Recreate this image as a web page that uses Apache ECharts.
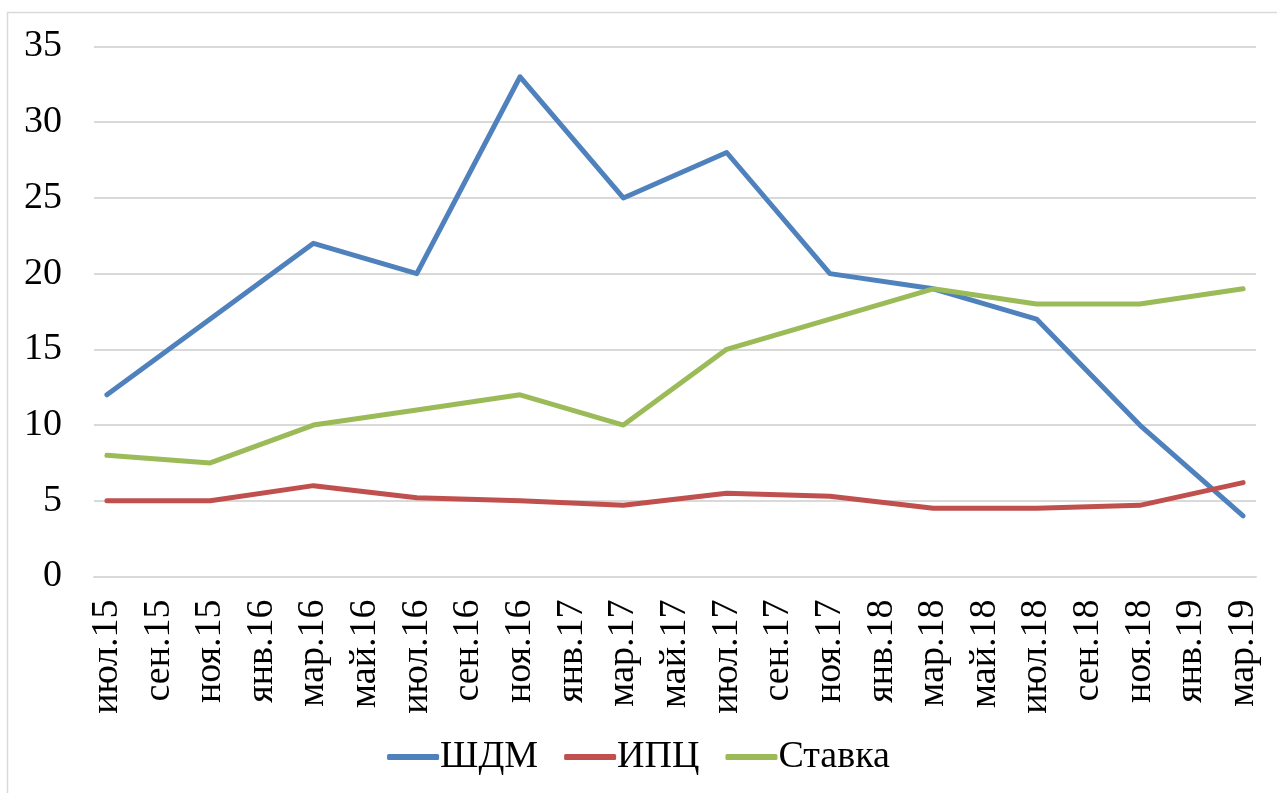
<!DOCTYPE html>
<html>
<head>
<meta charset="utf-8">
<script src="https://cdn.jsdelivr.net/npm/echarts@6/dist/echarts.min.js"></script>
<style>
  html, body { margin: 0; padding: 0; background: #fff; }
  #chart { width: 1277px; height: 793px; }
</style>
</head>
<body>
<div id="chart"></div>
<script>
// monthly axis, июл.15 .. мар.19 (labels shown every 2nd month)
var monthNames = ['янв', 'фев', 'мар', 'апр', 'май', 'июн', 'июл', 'авг', 'сен', 'окт', 'ноя', 'дек'];
var categories = [];
for (var k = 0; k < 45; k++) {
  var m = (6 + k) % 12;
  var y = 15 + Math.floor((6 + k) / 12);
  categories.push(monthNames[m] + '.' + y);
}

// observations every 4 months: июл.15, ноя.15, мар.16, ... мар.19
var shdm   = [12, 17, 22, 20, 33, 25, 28, 20, 19, 17, 10, 4];
var ipc    = [5, 5, 6, 5.2, 5, 4.7, 5.5, 5.3, 4.5, 4.5, 4.7, 6.2];
var stavka = [8, 7.5, 10, 11, 12, 10, 15, 17, 19, 18, 18, 19];

var yTicks = [0, 5, 10, 15, 20, 25, 30, 35];

// spread the 4-monthly values onto the monthly axis
const toMonthly = (vals) => {
  var out = [];
  for (var i = 0; i < categories.length; i++) {
    out.push(i % 4 === 0 ? vals[i / 4] : null);
  }
  return out;
};

const font = 'Liberation Serif';

const makeLine = (name, vals, color) => {
  return {
    name: name,
    type: 'line',
    data: toMonthly(vals),
    connectNulls: true,
    showSymbol: false,
    symbol: 'none',
    lineStyle: { color: color, width: 5, cap: 'round', join: 'round' },
    itemStyle: { color: color },
    emphasis: { disabled: true }
  };
};

const getOptionChart = () => {
  return {
    animation: false,
    backgroundColor: '#fff',
    textStyle: { fontFamily: font },
    graphic: [{
      type: 'rect',
      shape: { x: 7.5, y: 12.5, width: 1300, height: 900 },
      style: { fill: 'none', stroke: '#D9D9D9', lineWidth: 1.5 },
      silent: true
    }],
    grid: { left: 94, right: 21, top: 46.5, bottom: 216.5 },
    legend: {
      bottom: 12,
      left: 'center',
      itemWidth: 52,
      itemHeight: 6,
      itemGap: 26,
      icon: 'roundRect',
      textStyle: { fontFamily: font, fontSize: 38, color: '#000', padding: [0, 0, 0, -4] },
      data: ['ШДМ', 'ИПЦ', 'Ставка']
    },
    xAxis: {
      type: 'category',
      data: categories,
      boundaryGap: true,
      axisLine: { show: true, lineStyle: { color: '#D9D9D9', width: 2 } },
      axisTick: { show: false },
      axisLabel: {
        interval: 1,
        rotate: 90,
        margin: 23,
        fontFamily: font,
        fontSize: 38,
        color: '#000'
      }
    },
    yAxis: {
      type: 'value',
      min: yTicks[0],
      max: yTicks[yTicks.length - 1],
      interval: 5,
      axisLine: { show: false },
      axisTick: { show: false },
      splitLine: { lineStyle: { color: '#D9D9D9', width: 2 } },
      axisLabel: {
        margin: 32,
        fontFamily: font,
        fontSize: 38,
        color: '#000'
      }
    },
    series: [
      makeLine('ШДМ', shdm, '#4F81BD'),
      makeLine('ИПЦ', ipc, '#C0504D'),
      makeLine('Ставка', stavka, '#9BBB59')
    ]
  };
};

const initCharts = () => {
  const chart = echarts.init(document.getElementById('chart'));
  chart.setOption(getOptionChart());
};

window.addEventListener('load', () => {
  initCharts();
});
</script>
</body>
</html>
